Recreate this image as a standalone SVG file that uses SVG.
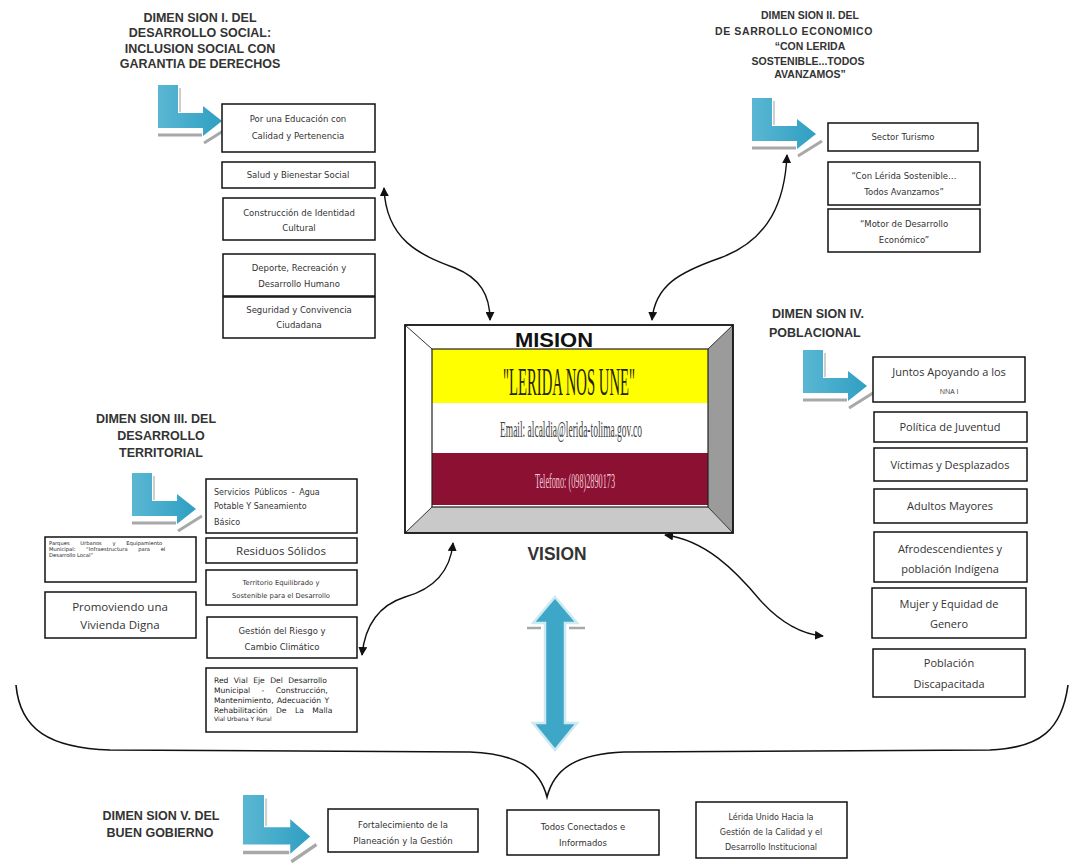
<svg xmlns="http://www.w3.org/2000/svg" xmlns:xlink="http://www.w3.org/1999/xlink" width="1072" height="865" viewBox="0 0 1072 865">
<style>
.box{fill:#fff;stroke:#111;stroke-width:1.5}
.s{font-family:"DejaVu Sans","Liberation Sans",sans-serif;font-size:8.5px;fill:#333;text-anchor:middle}
.m{font-family:"Open Sans","Liberation Sans",sans-serif;font-size:11px;fill:#333;text-anchor:middle}
.h{font-family:"Liberation Sans",Arial,sans-serif;font-weight:bold;fill:#333;text-anchor:middle;font-size:12.5px}
.j{font-family:"DejaVu Sans","Liberation Sans",sans-serif;fill:#222}
.conn{fill:none;stroke:#111;stroke-width:1.4;marker-start:url(#ah);marker-end:url(#ah)}
</style>
<defs>
<marker id="ah" viewBox="0 0 10 10" refX="9" refY="5" markerWidth="9" markerHeight="9" markerUnits="userSpaceOnUse" orient="auto-start-reverse"><path d="M0,0 L10,5 L0,10 Z" fill="#111"/></marker>
<linearGradient id="bg" x1="0" y1="0" x2="1" y2="0"><stop offset="0" stop-color="#5ab7d3"/><stop offset="1" stop-color="#2f9fc2"/></linearGradient>
<g id="bent">
<path d="M22,3 V27" stroke="#cfcfcf" stroke-width="2" fill="none"/>
<path d="M0,50 H44 M46,58 L70,43" stroke="#a8a8a8" stroke-width="3" fill="none"/>
<path d="M0,0 H20 V28 H45 V21 L64,36 L45,51 V43 H0 Z" fill="url(#bg)"/>
</g>
</defs>
<rect width="1072" height="865" fill="#fff"/>

<g id="connectors">
<path class="conn" d="M384,188 C386,240 420,255 455,268 C480,278 490,295 490,320"/>
<path class="conn" d="M787,155 C785,200 770,240 720,258 C680,272 655,285 652,320"/>
<path class="conn" d="M453,543 C450,575 430,590 405,597 C380,605 365,625 362,655"/>
<path class="conn" d="M665,535 C705,540 735,570 760,600 C780,622 800,634 823,636"/>
<path id="brace" d="M16,685 C20,730 50,748 110,750 L470,752 C520,754 540,770 547,797 C554,770 574,754 624,752 L990,750 C1040,748 1062,730 1068,685" fill="none" stroke="#111" stroke-width="1.6"/>
<g id="vertical-double-arrow">
<path d="M527,628 H541 M569,628 H585" stroke="#a8a8a8" stroke-width="2.5"/>
<path d="M555,597 L577,623 H565 V723 H577 L555,750 L533,723 H545 V623 H533 Z" fill="#3ea6c6" stroke="#cdeaf3" stroke-width="2.5"/>
</g>
</g>

<g id="center">
<polygon points="405,325 733,325 708,349 432,349" fill="#fff"/>
<polygon points="405,325 432,349 432,507 405,533" fill="#fff"/>
<polygon points="733,325 733,533 708,507 708,349" fill="#9b9b9b"/>
<polygon points="405,533 733,533 708,507 432,507" fill="#c9c9c9"/>
<rect x="432" y="349" width="276" height="54" fill="#ffff00"/>
<rect x="432" y="403" width="276" height="50" fill="#fff"/>
<rect x="432" y="453" width="276" height="52" fill="#8b1031"/>
<path d="M405,325 L432,349 M733,325 L708,349 M405,533 L432,507 M733,533 L708,507" stroke="#333" stroke-width="1"/>
<rect x="432" y="349" width="276" height="158" fill="none" stroke="#222" stroke-width="1.2"/>
<rect x="405" y="325" width="328" height="208" fill="none" stroke="#111" stroke-width="1.8"/>
<text x="554" y="347" font-family="Liberation Sans,Arial,sans-serif" font-weight="bold" font-size="20" fill="#111" text-anchor="middle" textLength="78" lengthAdjust="spacingAndGlyphs">MISION</text>
<text x="569" y="395" font-family="Liberation Serif,serif" font-size="40" fill="#262600" text-anchor="middle" textLength="132" lengthAdjust="spacingAndGlyphs">"LERIDA NOS UNE"</text>
<text x="571" y="437" font-family="Liberation Serif,serif" font-size="23" fill="#444" text-anchor="middle" textLength="142" lengthAdjust="spacingAndGlyphs">Email: alcaldia@lerida-tolima.gov.co</text>
<text x="575" y="488" font-family="Liberation Serif,serif" font-size="21" fill="#f3c6d6" text-anchor="middle" textLength="80" lengthAdjust="spacingAndGlyphs">Telefono: (098)2890173</text>
<text x="557" y="560" font-family="Liberation Sans,Arial,sans-serif" font-weight="bold" font-size="19" fill="#333" text-anchor="middle" textLength="59" lengthAdjust="spacingAndGlyphs">VISION</text>
</g>

<g id="dim1">
<text class="h" x="200" y="22">DIMEN SION I. DEL</text>
<text class="h" x="200" y="37">DESARROLLO SOCIAL:</text>
<text class="h" x="200" y="53">INCLUSION SOCIAL CON</text>
<text class="h" x="200" y="68">GARANTIA DE DERECHOS</text>
<use xlink:href="#bent" x="158" y="85"/>
</g>
<g id="n-educacion"><rect class="box" x="222" y="104" width="153" height="48"/><text class="s" x="298" y="122">Por una Educación con</text><text class="s" x="298" y="139">Calidad y Pertenencia</text></g>
<g id="n-salud"><rect class="box" x="222" y="162" width="153" height="26"/><text class="s" x="298" y="178">Salud y Bienestar Social</text></g>
<g id="n-identidad"><rect class="box" x="223" y="198" width="152" height="42"/><text class="s" x="299" y="216">Construcción de Identidad</text><text class="s" x="299" y="231">Cultural</text></g>
<g id="n-deporte"><rect class="box" x="223" y="254" width="152" height="42"/><text class="s" x="299" y="271">Deporte, Recreación y</text><text class="s" x="299" y="287">Desarrollo Humano</text></g>
<g id="n-seguridad"><rect class="box" x="223" y="297" width="152" height="41"/><text class="s" x="299" y="313">Seguridad y Convivencia</text><text class="s" x="299" y="328">Ciudadana</text></g>

<g id="dim2">
<text class="h" x="810" y="19" style="font-size:10.5px">DIMEN SION II. DEL</text>
<text class="h" x="794" y="35" style="font-size:10.5px;letter-spacing:0.6px">DE SARROLLO ECONOMICO</text>
<text class="h" x="810" y="50" style="font-size:10.5px">“CON LERIDA</text>
<text class="h" x="808" y="65" style="font-size:10.5px">SOSTENIBLE...TODOS</text>
<text class="h" x="810" y="78" style="font-size:10.5px">AVANZAMOS”</text>
<use xlink:href="#bent" x="752" y="98"/>
</g>
<g id="n-turismo"><rect class="box" x="828" y="123" width="150" height="28"/><text class="s" x="903" y="140">Sector Turismo</text></g>
<g id="n-sostenible"><rect class="box" x="828" y="162" width="152" height="43"/><text class="s" x="904" y="179">“Con Lérida Sostenible…</text><text class="s" x="904" y="195">Todos Avanzamos”</text></g>
<g id="n-motor"><rect class="box" x="828" y="209" width="152" height="43"/><text class="s" x="904" y="227">“Motor de Desarrollo</text><text class="s" x="904" y="243">Económico”</text></g>

<g id="dim3">
<text class="h" x="156" y="423">DIMEN SION  III. DEL</text>
<text class="h" x="161" y="440">DESARROLLO</text>
<text class="h" x="161" y="457">TERRITORIAL</text>
<use xlink:href="#bent" x="132" y="473"/>
</g>
<g id="n-servicios"><rect class="box" x="206" y="479" width="151" height="54"/>
<text class="s" x="214" y="495" style="text-anchor:start;font-size:8px;word-spacing:2px">Servicios Públicos - Agua</text>
<text class="s" x="214" y="509" style="text-anchor:start;font-size:8px">Potable Y Saneamiento</text>
<text class="s" x="214" y="525" style="text-anchor:start;font-size:8px">Básico</text></g>
<g id="n-residuos"><rect class="box" x="206" y="538" width="151" height="25"/><text class="m" x="281" y="555" style="font-size:11.5px">Residuos Sólidos</text></g>
<g id="n-territorio"><rect class="box" x="206" y="570" width="151" height="35"/><text class="s" x="281" y="585" style="font-size:6.8px">Territorio Equilibrado y</text><text class="s" x="281" y="598" style="font-size:6.8px">Sostenible para el Desarrollo</text></g>
<g id="n-riesgo"><rect class="box" x="207" y="617" width="150" height="41"/><text class="s" x="282" y="634">Gestión del Riesgo y</text><text class="s" x="282" y="650">Cambio Climático</text></g>
<g id="n-redvial"><rect class="box" x="206" y="668" width="151" height="64"/>
<text class="j" x="214" y="683" font-size="7.6" word-spacing="3">Red Vial Eje Del Desarrollo</text>
<text class="j" x="214" y="693" font-size="7.6" word-spacing="9">Municipal - Construcción,</text>
<text class="j" x="214" y="703" font-size="7.6" word-spacing="1">Mantenimiento, Adecuación Y</text>
<text class="j" x="214" y="713" font-size="7.6" word-spacing="6">Rehabilitación De La Malla</text>
<text class="j" x="214" y="721" font-size="6">Vial Urbana Y Rural</text></g>
<g id="n-urbano"><rect class="box" x="45" y="537" width="151" height="45"/>
<text class="j" x="49" y="545" font-size="5.2" word-spacing="9">Parques Urbanos y Equipamiento</text>
<text class="j" x="49" y="551" font-size="5.2" word-spacing="9">Municipal: “Infraestructura para el</text>
<text class="j" x="49" y="557" font-size="5.2">Desarrollo Local”</text></g>
<g id="n-vivienda"><rect class="box" x="45" y="592" width="151" height="46"/><text class="m" x="120" y="611" style="font-size:11.5px">Promoviendo una</text><text class="m" x="120" y="629" style="font-size:11.5px">Vivienda Digna</text></g>

<g id="dim4">
<text class="h" x="772" y="318" style="text-anchor:start">DIMEN SION  IV.</text>
<text class="h" x="769" y="337" style="text-anchor:start">POBLACIONAL</text>
<use xlink:href="#bent" x="803" y="350"/>
</g>
<g id="n-nna"><rect class="box" x="873" y="357" width="152" height="45"/><text class="m" x="949" y="376">Juntos Apoyando a los</text><text class="m" x="949" y="394" style="font-size:7px">NNA I</text></g>
<g id="n-juventud"><rect class="box" x="874" y="412" width="153" height="30"/><text class="m" x="950" y="431">Política de Juventud</text></g>
<g id="n-victimas"><rect class="box" x="874" y="448" width="153" height="33"/><text class="m" x="950" y="469">Víctimas y Desplazados</text></g>
<g id="n-adultos"><rect class="box" x="874" y="489" width="153" height="34"/><text class="m" x="950" y="510">Adultos Mayores</text></g>
<g id="n-afro"><rect class="box" x="874" y="532" width="153" height="50"/><text class="m" x="950" y="553">Afrodescendientes y</text><text class="m" x="950" y="573">población Indígena</text></g>
<g id="n-mujer"><rect class="box" x="872" y="588" width="154" height="50"/><text class="m" x="949" y="608">Mujer y Equidad de</text><text class="m" x="949" y="628">Genero</text></g>
<g id="n-discapacitada"><rect class="box" x="873" y="649" width="152" height="48"/><text class="m" x="949" y="667">Población</text><text class="m" x="949" y="688">Discapacitada</text></g>

<g id="dim5">
<text class="h" x="161" y="820">DIMEN SION  V. DEL</text>
<text class="h" x="160" y="837">BUEN GOBIERNO</text>
<use xlink:href="#bent" x="0" y="0" transform="translate(243,795) scale(1.05,1.15)"/>
</g>
<g id="n-planeacion"><rect class="box" x="328" y="809" width="150" height="43"/><text class="s" x="403" y="828">Fortalecimiento de la</text><text class="s" x="403" y="844">Planeación y la Gestión</text></g>
<g id="n-conectados"><rect class="box" x="507" y="810" width="152" height="45"/><text class="s" x="583" y="830">Todos Conectados e</text><text class="s" x="583" y="846">Informados</text></g>
<g id="n-calidad"><rect class="box" x="696" y="802" width="151" height="56"/><text class="s" x="771" y="820" style="font-size:8px">Lérida Unido Hacia la</text><text class="s" x="771" y="835" style="font-size:8px">Gestión de la Calidad y el</text><text class="s" x="771" y="850" style="font-size:8px">Desarrollo Institucional</text></g>
</svg>
